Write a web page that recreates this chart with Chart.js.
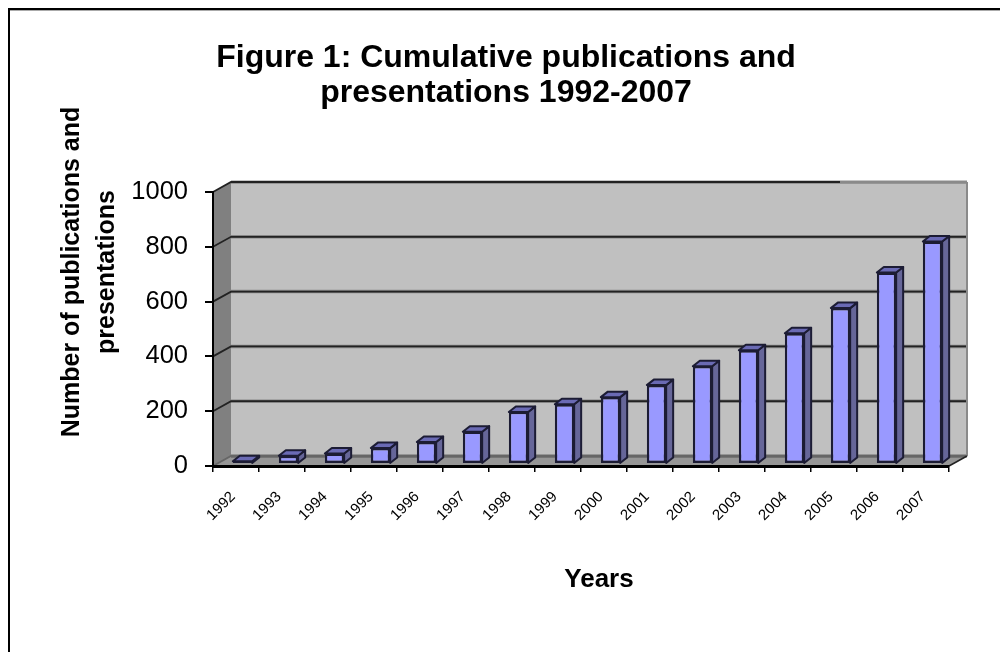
<!DOCTYPE html>
<html><head><meta charset="utf-8">
<style>html,body{margin:0;padding:0;background:#fff}canvas{display:block}</style>
<script src="https://cdn.jsdelivr.net/npm/chart.js@4"></script></head>
<body><canvas id="c" width="1000" height="652"></canvas>
<script>
const years = ["1992","1993","1994","1995","1996","1997","1998","1999","2000","2001","2002","2003","2004","2005","2006","2007"];
const counts = [10,30,38,58,80,118,190,218,244,288,357,415,477,569,699,812];
const yTicks = [0,200,400,600,800,1000];
const chartTitle = ["Figure 1: Cumulative publications and","presentations 1992-2007"];
const yTitle = ["Number of publications and","presentations"];
const xTitle = "Years";

const DEPTH_X = 18, DEPTH_Y = 10;      // wall depth of the 3-D box
const BAR_SHIFT_X = 6.5, BAR_SHIFT_Y = -2; // bars stand mid-way in the box
const BAR_DX = 7, BAR_DY = -5.5;       // depth of each bar

const box3d = {
  id:'box3d',
  beforeDraw(chart){
    const {ctx,chartArea:a,scales:{y}} = chart;
    ctx.save();
    ctx.fillStyle='#000';
    ctx.fillRect(8,8,2,644);
    ctx.fillRect(8,8,992,2);
    ctx.fillStyle='#aaa';
    ctx.fillRect(10,10,990,1);
    const l=a.left,r=a.right,t=a.top,b=a.bottom;
    const bl=l+DEPTH_X,br=r+DEPTH_X,bt=t-DEPTH_Y,bb=b-DEPTH_Y;
    ctx.fillStyle='#c0c0c0'; ctx.fillRect(bl,bt,br-bl,bb-bt);
    ctx.fillStyle='#808080';
    ctx.beginPath();ctx.moveTo(l,t);ctx.lineTo(bl,bt);ctx.lineTo(bl,bb);ctx.lineTo(l,b);ctx.closePath();ctx.fill();
    ctx.fillStyle='#969696';
    ctx.beginPath();ctx.moveTo(l,b);ctx.lineTo(bl,bb);ctx.lineTo(br,bb);ctx.lineTo(r,b);ctx.closePath();ctx.fill();
    yTicks.forEach(v=>{
      const py=y.getPixelForValue(v);
      ctx.strokeStyle = 'rgba(0,0,0,.3)'; ctx.lineWidth=3.5;
      ctx.beginPath();ctx.moveTo(bl,py-DEPTH_Y);ctx.lineTo(br,py-DEPTH_Y);ctx.stroke();
      ctx.strokeStyle = v===0 ? '#666' : '#222'; ctx.lineWidth=1.8;
      ctx.beginPath();ctx.moveTo(l,py);ctx.lineTo(bl,py-DEPTH_Y);ctx.lineTo(br,py-DEPTH_Y);ctx.stroke();
    });
    ctx.strokeStyle='#8a8a8a';ctx.lineWidth=2;
    ctx.beginPath();ctx.moveTo(br,bt);ctx.lineTo(br,bb);ctx.stroke();
    ctx.beginPath();ctx.moveTo(840,bt);ctx.lineTo(br,bt);ctx.stroke();
    ctx.strokeStyle='#222';ctx.lineWidth=1.5;
    ctx.beginPath();ctx.moveTo(r,b);ctx.lineTo(br,bb);ctx.stroke();
    ctx.restore();
  },
  beforeDatasetsDraw(chart){
    const {ctx} = chart;
    ctx.save();
    ctx.translate(BAR_SHIFT_X,BAR_SHIFT_Y);
    chart.getDatasetMeta(0).data.forEach(el=>{
      const x0=el.x-el.width/2,x1=el.x+el.width/2,top=el.y,base=el.base;
      ctx.strokeStyle='#1c1c34';ctx.lineWidth=2;ctx.lineJoin='round';
      ctx.fillStyle='#666699';
      ctx.beginPath();ctx.moveTo(x1,top);ctx.lineTo(x1+BAR_DX,top+BAR_DY);ctx.lineTo(x1+BAR_DX,base+BAR_DY);ctx.lineTo(x1,base);ctx.closePath();ctx.fill();ctx.stroke();
      ctx.fillStyle='#6a6ab4';
      ctx.beginPath();ctx.moveTo(x0,top);ctx.lineTo(x0+BAR_DX,top+BAR_DY);ctx.lineTo(x1+BAR_DX,top+BAR_DY);ctx.lineTo(x1,top);ctx.closePath();ctx.fill();ctx.stroke();
    });
  },
  afterDatasetsDraw(chart){ chart.ctx.restore(); },
  afterDraw(chart){
    const {ctx}=chart;
    ctx.save();
    ctx.fillStyle='#000';
    ctx.font='bold 25px "Liberation Sans"';
    ctx.textAlign='center';ctx.textBaseline='middle';
    ctx.save();
    ctx.translate(72,272);ctx.rotate(-Math.PI/2);
    ctx.fillText(yTitle[0],0,0);
    ctx.fillText(yTitle[1],0,35);
    ctx.restore();
    ctx.font='bold 26px "Liberation Sans"';
    ctx.fillText(xTitle,599,580);
    ctx.restore();
  }
};

new Chart(document.getElementById('c'),{
  type:'bar',
  data:{labels:years,datasets:[{
    data:counts,backgroundColor:'#9999ff',borderColor:'#1c1c34',borderWidth:2.4,
    borderSkipped:false,categoryPercentage:1,barPercentage:0.42,clip:false
  }]},
  plugins:[box3d],
  options:{
    responsive:false,animation:false,devicePixelRatio:1,
    layout:{padding:{left:63,top:41,right:51,bottom:0}},
    plugins:{
      legend:{display:false},tooltip:{enabled:false},
      title:{display:true,text:chartTitle,color:'#000',
        font:{family:'"Liberation Sans"',size:32,weight:'bold',lineHeight:1.094},
        padding:{top:0,bottom:81}}
    },
    scales:{
      x:{
        afterFit(s){s.height=186;},
        grid:{drawOnChartArea:false,color:'#000',tickLength:6,lineWidth:1.5},
        border:{color:'#000',width:3},
        ticks:{minRotation:45,maxRotation:45,color:'#000',padding:16,labelOffset:-3,autoSkip:false,
          font:{family:'"Liberation Sans"',size:15}}
      },
      y:{
        min:0,max:1000,
        afterFit(s){s.width=150;},
        afterBuildTicks(s){s.ticks=yTicks.map(v=>({value:v}));},
        grid:{drawOnChartArea:false,color:'#000',tickLength:8,lineWidth:2},
        border:{color:'#000',width:2},
        ticks:{color:'#000',padding:17,callback:v=>String(v),font:{family:'"Liberation Sans"',size:25.5}}
      }
    }
  }
});
</script></body></html>
